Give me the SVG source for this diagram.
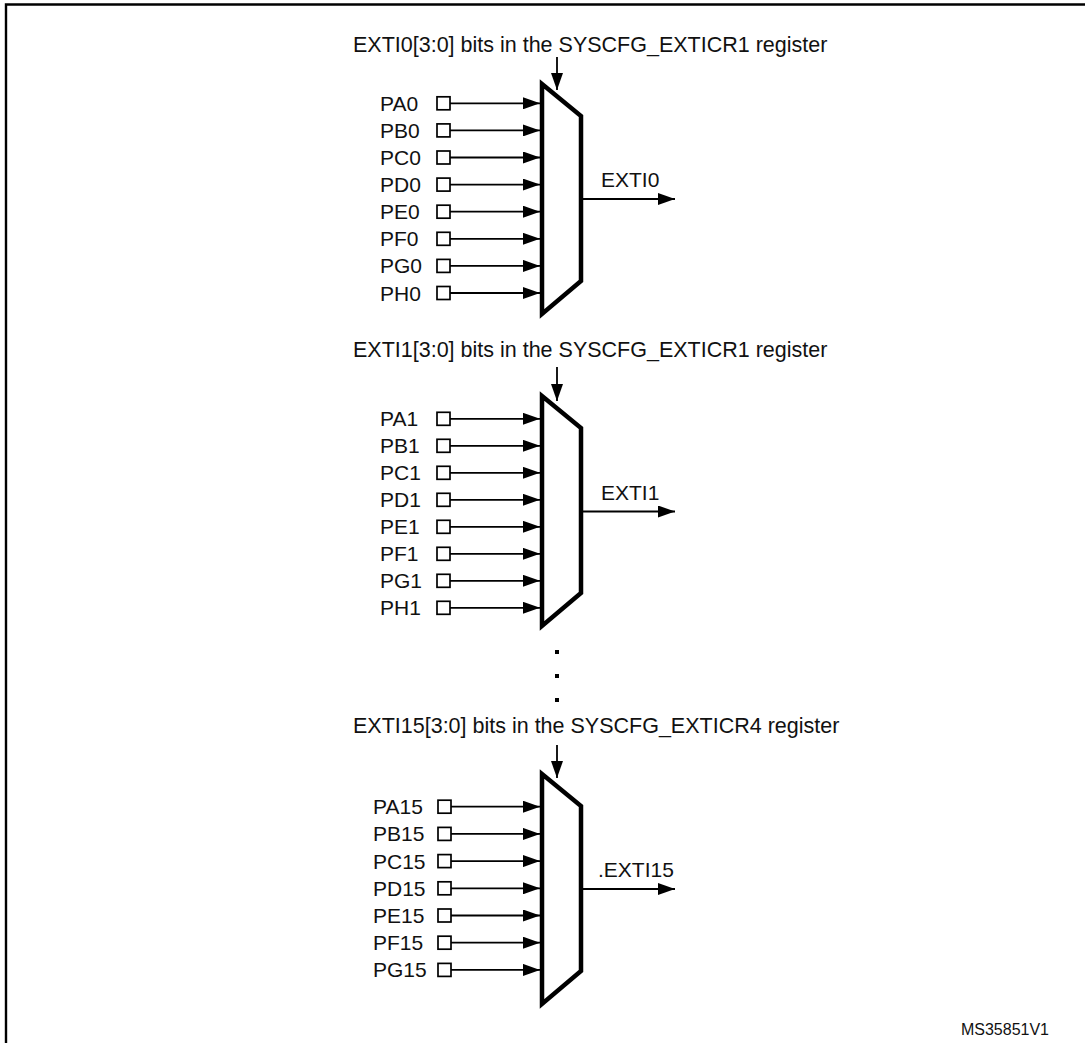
<svg xmlns="http://www.w3.org/2000/svg" width="1085" height="1043" viewBox="0 0 1085 1043">
<style>
.bg{fill:#fff}
.frame{fill:none;stroke:#000;stroke-width:2.4}
.mux{fill:#fff;stroke:#000;stroke-width:4.5;stroke-linejoin:miter}
.pin{fill:#fff;stroke:#000;stroke-width:1.7}
.wire{fill:none;stroke:#000;stroke-width:1.8;marker-end:url(#ah)}
.lbl{font-family:"Liberation Sans",Arial,sans-serif;font-size:21px;fill:#111}
.ttl{font-family:"Liberation Sans",Arial,sans-serif;font-size:21.5px;fill:#111}
.ref{font-family:"Liberation Sans",Arial,sans-serif;font-size:16px;fill:#111}
.dot{fill:#000}
</style>
<defs>
<marker id="ah" markerUnits="userSpaceOnUse" markerWidth="17" markerHeight="12" refX="17" refY="6" orient="auto">
<path d="M0,0 L17,6 L0,12 z" fill="#000"/>
</marker>
</defs>
<rect class="bg" x="0" y="0" width="1085" height="1043"/>
<path class="frame" d="M6,1043 L6,4.5 L1085,4.5"/>

<g id="connectors">
<path class="wire" d="M450,103.3 H540"/>
<path class="wire" d="M450,130.4 H540"/>
<path class="wire" d="M450,157.5 H540"/>
<path class="wire" d="M450,184.6 H540"/>
<path class="wire" d="M450,211.7 H540"/>
<path class="wire" d="M450,238.8 H540"/>
<path class="wire" d="M450,265.9 H540"/>
<path class="wire" d="M450,293 H540"/>
<path class="wire" d="M557,57 V90"/>
<path class="wire" d="M583,199 H675"/>
<path class="wire" d="M450,418.8 H540"/>
<path class="wire" d="M450,445.8 H540"/>
<path class="wire" d="M450,472.8 H540"/>
<path class="wire" d="M450,499.8 H540"/>
<path class="wire" d="M450,526.8 H540"/>
<path class="wire" d="M450,553.8 H540"/>
<path class="wire" d="M450,580.8 H540"/>
<path class="wire" d="M450,607.8 H540"/>
<path class="wire" d="M557,367 V401"/>
<path class="wire" d="M583,511.5 H675"/>
<path class="wire" d="M450,806.7 H540"/>
<path class="wire" d="M450,833.9 H540"/>
<path class="wire" d="M450,861.1 H540"/>
<path class="wire" d="M450,888.3 H540"/>
<path class="wire" d="M450,915.5 H540"/>
<path class="wire" d="M450,942.7 H540"/>
<path class="wire" d="M450,969.9 H540"/>
<path class="wire" d="M557,745 V778"/>
<path class="wire" d="M583,889 H675"/>
</g>

<g id="mux0">
<text class="ttl" x="353" y="52">EXTI0[3:0] bits in the SYSCFG_EXTICR1 register</text>
<polygon class="mux" points="542,84 581,116 581,281 542,314"/>
<text class="lbl" x="601" y="187">EXTI0</text>
</g>
<g id="pins0">
<rect class="pin" x="437" y="96.8" width="13" height="13"/><text class="lbl" x="380" y="110.8">PA0</text>
<rect class="pin" x="437" y="123.9" width="13" height="13"/><text class="lbl" x="380" y="137.9">PB0</text>
<rect class="pin" x="437" y="151" width="13" height="13"/><text class="lbl" x="380" y="165">PC0</text>
<rect class="pin" x="437" y="178.1" width="13" height="13"/><text class="lbl" x="380" y="192.1">PD0</text>
<rect class="pin" x="437" y="205.2" width="13" height="13"/><text class="lbl" x="380" y="219.2">PE0</text>
<rect class="pin" x="437" y="232.3" width="13" height="13"/><text class="lbl" x="380" y="246.3">PF0</text>
<rect class="pin" x="437" y="259.4" width="13" height="13"/><text class="lbl" x="380" y="273.4">PG0</text>
<rect class="pin" x="437" y="286.5" width="13" height="13"/><text class="lbl" x="380" y="300.5">PH0</text>
</g>

<g id="mux1">
<text class="ttl" x="353" y="357">EXTI1[3:0] bits in the SYSCFG_EXTICR1 register</text>
<polygon class="mux" points="542,396 581,428 581,593 542,626"/>
<text class="lbl" x="601" y="500">EXTI1</text>
</g>
<g id="pins1">
<rect class="pin" x="437" y="412.3" width="13" height="13"/><text class="lbl" x="380" y="426.3">PA1</text>
<rect class="pin" x="437" y="439.3" width="13" height="13"/><text class="lbl" x="380" y="453.3">PB1</text>
<rect class="pin" x="437" y="466.3" width="13" height="13"/><text class="lbl" x="380" y="480.3">PC1</text>
<rect class="pin" x="437" y="493.3" width="13" height="13"/><text class="lbl" x="380" y="507.3">PD1</text>
<rect class="pin" x="437" y="520.3" width="13" height="13"/><text class="lbl" x="380" y="534.3">PE1</text>
<rect class="pin" x="437" y="547.3" width="13" height="13"/><text class="lbl" x="380" y="561.3">PF1</text>
<rect class="pin" x="437" y="574.3" width="13" height="13"/><text class="lbl" x="380" y="588.3">PG1</text>
<rect class="pin" x="437" y="601.3" width="13" height="13"/><text class="lbl" x="380" y="615.3">PH1</text>
</g>

<g id="ellipsis">
<rect class="dot" x="555" y="650" width="4" height="4"/>
<rect class="dot" x="555" y="674" width="4" height="4"/>
<rect class="dot" x="555" y="698" width="4" height="4"/>
</g>

<g id="mux15">
<text class="ttl" x="353" y="733">EXTI15[3:0] bits in the SYSCFG_EXTICR4 register</text>
<polygon class="mux" points="542,774 581,806 581,971 542,1004"/>
<text class="lbl" x="598" y="877">.EXTI15</text>
</g>
<g id="pins15">
<rect class="pin" x="438" y="800.2" width="13" height="13"/><text class="lbl" x="373" y="814.2">PA15</text>
<rect class="pin" x="438" y="827.4" width="13" height="13"/><text class="lbl" x="373" y="841.4">PB15</text>
<rect class="pin" x="438" y="854.6" width="13" height="13"/><text class="lbl" x="373" y="868.6">PC15</text>
<rect class="pin" x="438" y="881.8" width="13" height="13"/><text class="lbl" x="373" y="895.8">PD15</text>
<rect class="pin" x="438" y="909" width="13" height="13"/><text class="lbl" x="373" y="923">PE15</text>
<rect class="pin" x="438" y="936.2" width="13" height="13"/><text class="lbl" x="373" y="950.2">PF15</text>
<rect class="pin" x="438" y="963.4" width="13" height="13"/><text class="lbl" x="373" y="977.4">PG15</text>
</g>

<text class="ref" x="1049" y="1035" text-anchor="end">MS35851V1</text>
</svg>
